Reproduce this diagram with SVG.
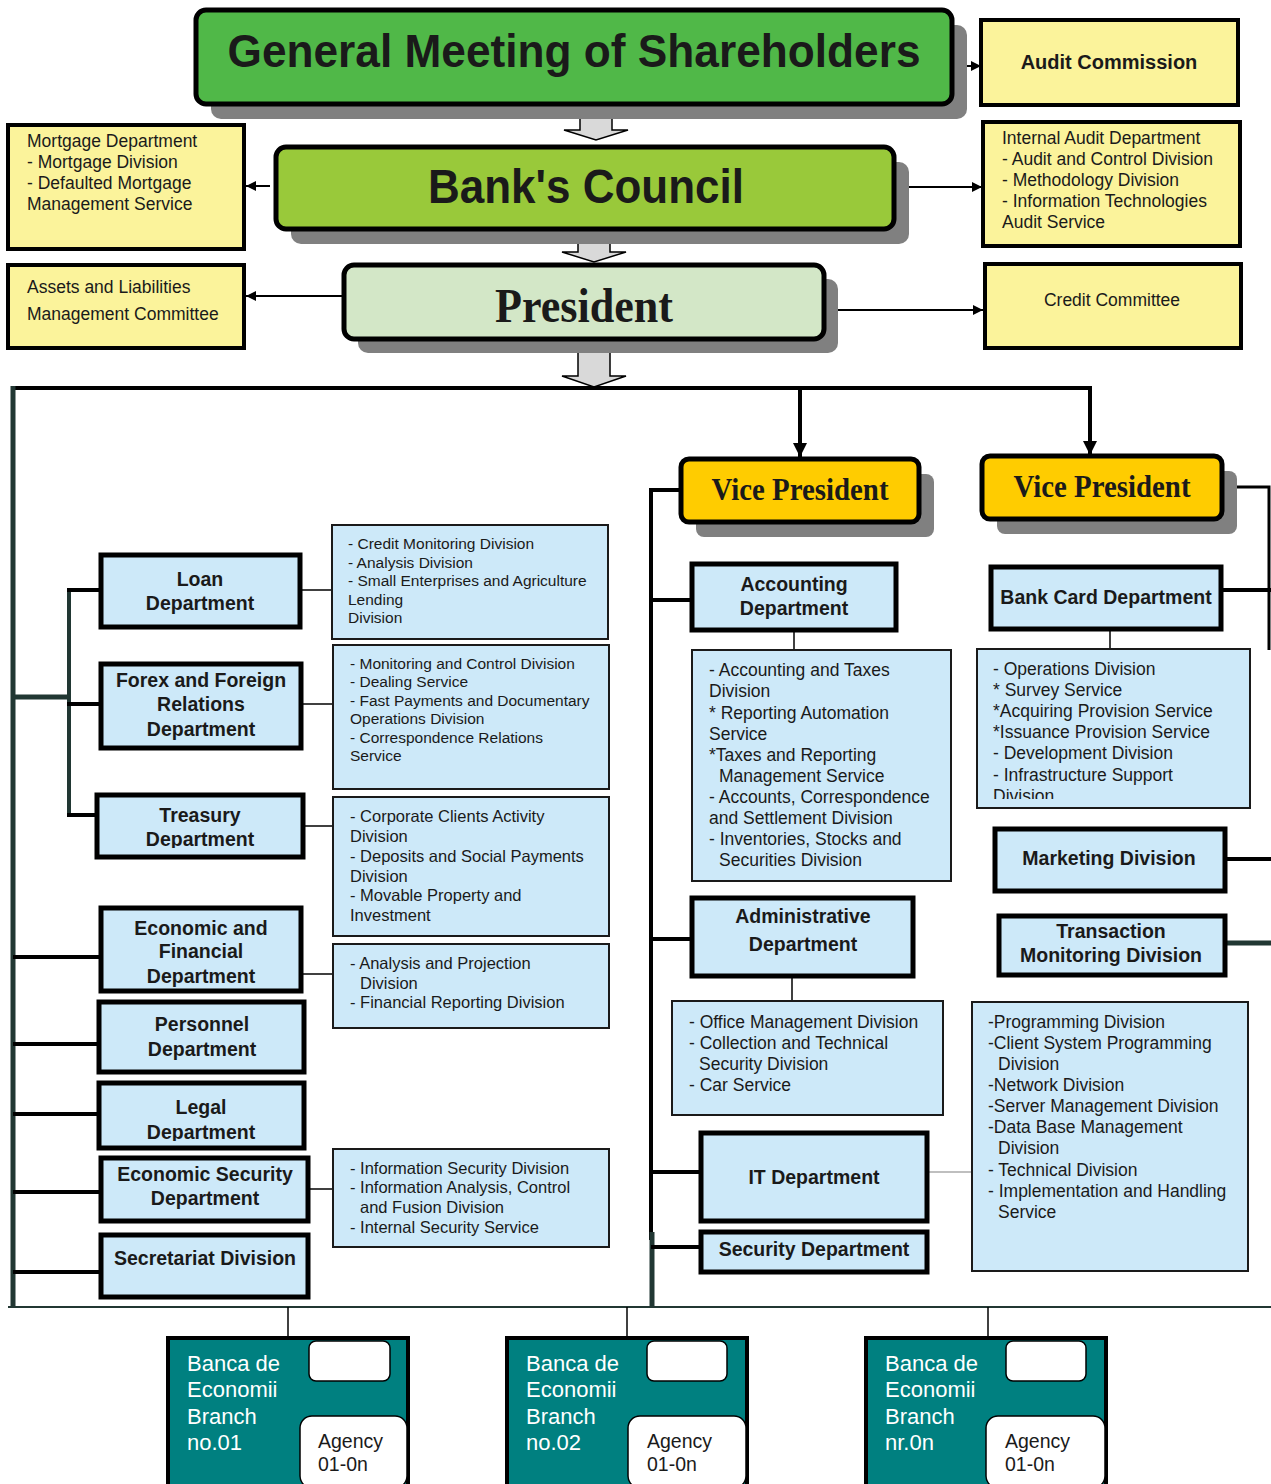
<svg xmlns="http://www.w3.org/2000/svg" width="1271" height="1484" viewBox="0 0 1271 1484">
<style>
.sh{fill:#808080}
.top{stroke:#000;stroke-width:5}
.yel{fill:#fbf39b;stroke:#000;stroke-width:4}
.dept{fill:#cde9f9;stroke:#000;stroke-width:5}
.det{fill:#cde9f9;stroke:#1a1a1a;stroke-width:2}
.br{fill:#008080;stroke:#000;stroke-width:4}
.wb{fill:#fff;stroke:#000;stroke-width:1.5}
.blk{fill:#d9d9d9;stroke:#000;stroke-width:1.5}
.t{font-family:"Liberation Sans",Arial,sans-serif;fill:#1a1a1a}
.tb{font-family:"Liberation Sans",Arial,sans-serif;font-weight:bold;fill:#1a1a1a}
.ts{font-family:"Liberation Serif","Times New Roman",serif;font-weight:bold;fill:#1a1a1a}
.d15{font-size:15.5px}
.d16{font-size:16.5px}
.d17{font-size:17.5px}
.b19{font-size:19.5px;text-anchor:middle}
.wt{font-family:"Liberation Sans",Arial,sans-serif;fill:#fff;font-size:22px}
.ag{font-family:"Liberation Sans",Arial,sans-serif;fill:#1a1a1a;font-size:19.5px}
.ln{stroke:#000;fill:none}
.dk{stroke:#213733;fill:none}
</style>
<defs>
<marker id="ah" viewBox="0 0 10 10" refX="10" refY="5" markerWidth="10" markerHeight="10" markerUnits="userSpaceOnUse" orient="auto">
<path d="M0,0 L10,5 L0,10 z" fill="#000"/>
</marker>
<marker id="ahd" viewBox="0 0 10 10" refX="10" refY="5" markerWidth="14" markerHeight="14" markerUnits="userSpaceOnUse" orient="auto">
<path d="M0,0 L10,5 L0,10 z" fill="#000"/>
</marker>
<clipPath id="cTre"><rect x="99" y="797" width="202" height="51"/></clipPath>
<clipPath id="cLeg"><rect x="101" y="1085" width="201" height="56"/></clipPath>
<clipPath id="cBc"><rect x="978" y="650" width="271" height="149"/></clipPath>
</defs>

<g id="connectors">
<polygon class="blk" points="580,106 612,106 612,130 628,130 596,140 564,130 580,130"/>
<polygon class="blk" points="578,232 610,232 610,252 626,252 594,262 562,252 578,252"/>
<polygon class="blk" points="578,347 610,347 610,376 626,376 594,387 562,376 578,376"/>
<line class="ln" x1="966" y1="66" x2="981" y2="66" stroke-width="2" marker-end="url(#ah)"/>
<line class="ln" x1="909" y1="187" x2="982" y2="187" stroke-width="2" marker-end="url(#ah)"/>
<line class="ln" x1="270" y1="186" x2="246" y2="186" stroke-width="2" marker-end="url(#ah)"/>
<line class="ln" x1="344" y1="296" x2="246" y2="296" stroke-width="2" marker-end="url(#ah)"/>
<line class="ln" x1="838" y1="310" x2="983" y2="310" stroke-width="2" marker-end="url(#ah)"/>
<line class="ln" x1="11" y1="388" x2="1092" y2="388" stroke-width="4"/>
<line class="ln" x1="800" y1="388" x2="800" y2="457" stroke-width="4" marker-end="url(#ahd)"/>
<line class="ln" x1="1090" y1="388" x2="1090" y2="455" stroke-width="4" marker-end="url(#ahd)"/>
<line class="dk" x1="13" y1="386" x2="13" y2="1308" stroke-width="5"/>
<line class="dk" x1="69" y1="589" x2="69" y2="817" stroke-width="4"/>
<line class="dk" x1="13" y1="697" x2="69" y2="697" stroke-width="5"/>
<line class="ln" x1="67" y1="590" x2="101" y2="590" stroke-width="4"/>
<line class="ln" x1="67" y1="704" x2="101" y2="704" stroke-width="4"/>
<line class="ln" x1="67" y1="815" x2="97" y2="815" stroke-width="4"/>
<line class="ln" x1="13" y1="957" x2="101" y2="957" stroke-width="4"/>
<line class="ln" x1="13" y1="1044" x2="99" y2="1044" stroke-width="4"/>
<line class="ln" x1="13" y1="1114" x2="99" y2="1114" stroke-width="4"/>
<line class="ln" x1="13" y1="1192" x2="101" y2="1192" stroke-width="4"/>
<line class="ln" x1="13" y1="1272" x2="101" y2="1272" stroke-width="4"/>
<line class="ln" x1="300" y1="590" x2="332" y2="590" stroke-width="1.5"/>
<line class="ln" x1="301" y1="704" x2="333" y2="704" stroke-width="1.5"/>
<line class="ln" x1="303" y1="826" x2="333" y2="826" stroke-width="1.5"/>
<line class="ln" x1="301" y1="974" x2="333" y2="974" stroke-width="1.5"/>
<line class="ln" x1="308" y1="1189" x2="333" y2="1189" stroke-width="1.5"/>
<polyline class="ln" points="681,490 651,490 651,1240" stroke-width="4"/>
<line class="dk" x1="652" y1="1232" x2="652" y2="1307" stroke-width="5"/>
<line class="ln" x1="651" y1="600" x2="692" y2="600" stroke-width="4"/>
<line class="ln" x1="651" y1="939" x2="692" y2="939" stroke-width="4"/>
<line class="ln" x1="651" y1="1172" x2="701" y2="1172" stroke-width="4"/>
<line class="ln" x1="651" y1="1247" x2="701" y2="1247" stroke-width="4"/>
<line class="ln" x1="794" y1="630" x2="794" y2="650" stroke-width="1.5"/>
<line class="ln" x1="792" y1="976" x2="792" y2="1001" stroke-width="1.5"/>
<line x1="927" y1="1172" x2="972" y2="1172" stroke="#aaa" stroke-width="1.5"/>
<polyline class="ln" points="1222,487 1269,487 1269,650" stroke-width="3"/>
<line class="ln" x1="1221" y1="590" x2="1271" y2="590" stroke-width="4"/>
<line class="ln" x1="1225" y1="859" x2="1271" y2="859" stroke-width="4"/>
<line class="dk" x1="1225" y1="943" x2="1271" y2="943" stroke-width="5"/>
<line class="ln" x1="1110" y1="629" x2="1110" y2="649" stroke-width="1.5"/>
<line class="dk" x1="8" y1="1307" x2="1271" y2="1307" stroke-width="2"/>
<line class="ln" x1="288" y1="1307" x2="288" y2="1338" stroke-width="1.5"/>
<line class="ln" x1="627" y1="1307" x2="627" y2="1338" stroke-width="1.5"/>
<line class="ln" x1="988" y1="1307" x2="988" y2="1338" stroke-width="1.5"/>
</g>

<g id="gms">
<rect class="sh" x="211" y="25" width="756" height="94" rx="10"/>
<rect class="top" x="196" y="10" width="756" height="94" rx="10" fill="#50b848"/>
<text class="tb" x="574" y="67" font-size="46" text-anchor="middle" textLength="693" lengthAdjust="spacingAndGlyphs">General Meeting of Shareholders</text>
</g>
<g id="council">
<rect class="sh" x="291" y="162" width="618" height="82" rx="10"/>
<rect class="top" x="276" y="147" width="618" height="82" rx="10" fill="#99c93a"/>
<text class="tb" x="586" y="203" font-size="48" text-anchor="middle" textLength="316" lengthAdjust="spacingAndGlyphs">Bank's Council</text>
</g>
<g id="president">
<rect class="sh" x="358" y="279" width="480" height="74" rx="10"/>
<rect class="top" x="344" y="265" width="480" height="74" rx="10" fill="#d3e7c7"/>
<text class="ts" x="584" y="322" font-size="48" text-anchor="middle" textLength="178" lengthAdjust="spacingAndGlyphs">President</text>
</g>
<g id="audit-commission">
<rect class="yel" x="981" y="20" width="257" height="85"/>
<text class="tb" x="1109" y="69" font-size="20" text-anchor="middle">Audit Commission</text>
</g>
<g id="internal-audit">
<rect class="yel" x="983" y="122" width="257" height="124"/>
<text class="t d17" x="1002" y="144">Internal Audit Department</text>
<text class="t d17" x="1002" y="165">- Audit and Control Division</text>
<text class="t d17" x="1002" y="186">- Methodology Division</text>
<text class="t d17" x="1002" y="207">- Information Technologies</text>
<text class="t d17" x="1002" y="228">Audit Service</text>
</g>
<g id="mortgage">
<rect class="yel" x="8" y="125" width="236" height="124"/>
<text class="t d17" x="27" y="147">Mortgage Department</text>
<text class="t d17" x="27" y="168">- Mortgage Division</text>
<text class="t d17" x="27" y="189">- Defaulted Mortgage</text>
<text class="t d17" x="27" y="210">Management Service</text>
</g>
<g id="alco">
<rect class="yel" x="8" y="265" width="236" height="83"/>
<text class="t d17" x="27" y="293">Assets and Liabilities</text>
<text class="t d17" x="27" y="320">Management Committee</text>
</g>
<g id="credit-committee">
<rect class="yel" x="985" y="264" width="256" height="84"/>
<text class="t d17" x="1112" y="306" text-anchor="middle">Credit Committee</text>
</g>

<g id="vp1">
<rect class="sh" x="696" y="474" width="238" height="63" rx="8"/>
<rect class="top" x="681" y="459" width="238" height="63" rx="8" fill="#ffcc00"/>
<text class="ts" x="800" y="500" font-size="31" text-anchor="middle" textLength="177" lengthAdjust="spacingAndGlyphs">Vice President</text>
</g>
<g id="vp2">
<rect class="sh" x="997" y="471" width="240" height="63" rx="8"/>
<rect class="top" x="982" y="456" width="240" height="63" rx="8" fill="#ffcc00"/>
<text class="ts" x="1102" y="497" font-size="31" text-anchor="middle" textLength="177" lengthAdjust="spacingAndGlyphs">Vice President</text>
</g>

<g id="loan">
<rect class="dept" x="101" y="555" width="199" height="72"/>
<text class="tb b19" x="200" y="586">Loan</text>
<text class="tb b19" x="200" y="610">Department</text>
</g>
<g id="loan-details">
<rect class="det" x="332" y="525" width="276" height="114"/>
<text class="t d15" x="348" y="549">- Credit Monitoring Division</text>
<text class="t d15" x="348" y="568">- Analysis Division</text>
<text class="t d15" x="348" y="586">- Small Enterprises and Agriculture</text>
<text class="t d15" x="348" y="605">Lending</text>
<text class="t d15" x="348" y="623">Division</text>
</g>
<g id="forex">
<rect class="dept" x="101" y="664" width="200" height="84"/>
<text class="tb b19" x="201" y="687">Forex and Foreign</text>
<text class="tb b19" x="201" y="711">Relations</text>
<text class="tb b19" x="201" y="736">Department</text>
</g>
<g id="forex-details">
<rect class="det" x="333" y="645" width="276" height="144"/>
<text class="t d15" x="350" y="669">- Monitoring and Control Division</text>
<text class="t d15" x="350" y="687">- Dealing Service</text>
<text class="t d15" x="350" y="706">- Fast Payments and Documentary</text>
<text class="t d15" x="350" y="724">Operations Division</text>
<text class="t d15" x="350" y="743">- Correspondence Relations</text>
<text class="t d15" x="350" y="761">Service</text>
</g>
<g id="treasury">
<rect class="dept" x="97" y="795" width="206" height="62"/>
<g clip-path="url(#cTre)">
<text class="tb b19" x="200" y="822">Treasury</text>
<text class="tb b19" x="200" y="846">Department</text>
</g>
</g>
<g id="treasury-details">
<rect class="det" x="333" y="797" width="276" height="139"/>
<text class="t d16" x="350" y="822">- Corporate Clients Activity</text>
<text class="t d16" x="350" y="842">Division</text>
<text class="t d16" x="350" y="862">- Deposits and Social Payments</text>
<text class="t d16" x="350" y="882">Division</text>
<text class="t d16" x="350" y="901">- Movable Property and</text>
<text class="t d16" x="350" y="921">Investment</text>
</g>
<g id="econ-fin">
<rect class="dept" x="101" y="908" width="200" height="83"/>
<text class="tb b19" x="201" y="935">Economic and</text>
<text class="tb b19" x="201" y="958">Financial</text>
<text class="tb b19" x="201" y="983">Department</text>
</g>
<g id="econ-fin-details">
<rect class="det" x="333" y="944" width="276" height="84"/>
<text class="t d16" x="350" y="969">- Analysis and Projection</text>
<text class="t d16" x="360" y="989">Division</text>
<text class="t d16" x="350" y="1008">- Financial Reporting Division</text>
</g>
<g id="personnel">
<rect class="dept" x="99" y="1002" width="205" height="70"/>
<text class="tb b19" x="202" y="1031">Personnel</text>
<text class="tb b19" x="202" y="1056">Department</text>
</g>
<g id="legal">
<rect class="dept" x="99" y="1083" width="205" height="65"/>
<g clip-path="url(#cLeg)">
<text class="tb b19" x="201" y="1114">Legal</text>
<text class="tb b19" x="201" y="1139">Department</text>
</g>
</g>
<g id="econ-sec">
<rect class="dept" x="101" y="1158" width="207" height="63"/>
<text class="tb b19" x="205" y="1181">Economic Security</text>
<text class="tb b19" x="205" y="1205">Department</text>
</g>
<g id="econ-sec-details">
<rect class="det" x="333" y="1149" width="276" height="98"/>
<text class="t d16" x="350" y="1174">- Information Security Division</text>
<text class="t d16" x="350" y="1193">- Information Analysis, Control</text>
<text class="t d16" x="360" y="1213">and Fusion Division</text>
<text class="t d16" x="350" y="1233">- Internal Security Service</text>
</g>
<g id="secretariat">
<rect class="dept" x="101" y="1235" width="207" height="62"/>
<text class="tb b19" x="205" y="1265">Secretariat Division</text>
</g>

<g id="accounting">
<rect class="dept" x="692" y="564" width="204" height="66"/>
<text class="tb b19" x="794" y="591">Accounting</text>
<text class="tb b19" x="794" y="615">Department</text>
</g>
<g id="accounting-details">
<rect class="det" x="692" y="650" width="259" height="231"/>
<text class="t d17" x="709" y="676">- Accounting and Taxes</text>
<text class="t d17" x="709" y="697">Division</text>
<text class="t d17" x="709" y="719">* Reporting Automation</text>
<text class="t d17" x="709" y="740">Service</text>
<text class="t d17" x="709" y="761">*Taxes and Reporting</text>
<text class="t d17" x="719" y="782">Management Service</text>
<text class="t d17" x="709" y="803">- Accounts, Correspondence</text>
<text class="t d17" x="709" y="824">and Settlement Division</text>
<text class="t d17" x="709" y="845">- Inventories, Stocks and</text>
<text class="t d17" x="719" y="866">Securities Division</text>
</g>
<g id="administrative">
<rect class="dept" x="692" y="898" width="221" height="78"/>
<text class="tb b19" x="803" y="923">Administrative</text>
<text class="tb b19" x="803" y="951">Department</text>
</g>
<g id="admin-details">
<rect class="det" x="672" y="1001" width="271" height="114"/>
<text class="t d17" x="689" y="1028">- Office Management Division</text>
<text class="t d17" x="689" y="1049">- Collection and Technical</text>
<text class="t d17" x="699" y="1070">Security Division</text>
<text class="t d17" x="689" y="1091">- Car Service</text>
</g>
<g id="it">
<rect class="dept" x="701" y="1133" width="226" height="88"/>
<text class="tb b19" x="814" y="1184">IT Department</text>
</g>
<g id="security">
<rect class="dept" x="701" y="1232" width="226" height="40"/>
<text class="tb b19" x="814" y="1256">Security Department</text>
</g>

<g id="bank-card">
<rect class="dept" x="991" y="567" width="230" height="62"/>
<text class="tb b19" x="1106" y="604">Bank Card Department</text>
</g>
<g id="bank-card-details">
<rect class="det" x="977" y="649" width="273" height="159"/>
<g clip-path="url(#cBc)">
<text class="t d17" x="993" y="675">- Operations Division</text>
<text class="t d17" x="993" y="696">* Survey Service</text>
<text class="t d17" x="993" y="717">*Acquiring Provision Service</text>
<text class="t d17" x="993" y="738">*Issuance Provision Service</text>
<text class="t d17" x="993" y="759">- Development Division</text>
<text class="t d17" x="993" y="781">- Infrastructure Support</text>
<text class="t d17" x="993" y="802">Division</text>
</g>
</g>
<g id="marketing">
<rect class="dept" x="995" y="829" width="230" height="62"/>
<text class="tb b19" x="1109" y="865">Marketing Division</text>
</g>
<g id="transaction">
<rect class="dept" x="999" y="916" width="226" height="59"/>
<text class="tb b19" x="1111" y="938">Transaction</text>
<text class="tb b19" x="1111" y="962">Monitoring Division</text>
</g>
<g id="it-details">
<rect class="det" x="972" y="1002" width="276" height="269"/>
<text class="t d17" x="988" y="1028">-Programming Division</text>
<text class="t d17" x="988" y="1049">-Client System Programming</text>
<text class="t d17" x="998" y="1070">Division</text>
<text class="t d17" x="988" y="1091">-Network Division</text>
<text class="t d17" x="988" y="1112">-Server Management Division</text>
<text class="t d17" x="988" y="1133">-Data Base Management</text>
<text class="t d17" x="998" y="1154">Division</text>
<text class="t d17" x="988" y="1176">- Technical Division</text>
<text class="t d17" x="988" y="1197">- Implementation and Handling</text>
<text class="t d17" x="998" y="1218">Service</text>
</g>

<g id="branch-01">
<rect class="br" x="168" y="1338" width="240" height="150"/>
<text class="wt" x="187" y="1371">Banca de</text>
<text class="wt" x="187" y="1397">Economii</text>
<text class="wt" x="187" y="1424">Branch</text>
<text class="wt" x="187" y="1450">no.01</text>
<rect class="wb" x="309" y="1341" width="81" height="40" rx="7"/>
<rect class="wb" x="300" y="1416" width="107" height="72" rx="12"/>
<text class="ag" x="318" y="1448">Agency</text>
<text class="ag" x="318" y="1471">01-0n</text>
</g>
<g id="branch-02">
<rect class="br" x="507" y="1338" width="240" height="150"/>
<text class="wt" x="526" y="1371">Banca de</text>
<text class="wt" x="526" y="1397">Economii</text>
<text class="wt" x="526" y="1424">Branch</text>
<text class="wt" x="526" y="1450">no.02</text>
<rect class="wb" x="647" y="1341" width="80" height="40" rx="7"/>
<rect class="wb" x="628" y="1416" width="118" height="72" rx="12"/>
<text class="ag" x="647" y="1448">Agency</text>
<text class="ag" x="647" y="1471">01-0n</text>
</g>
<g id="branch-0n">
<rect class="br" x="866" y="1338" width="240" height="150"/>
<text class="wt" x="885" y="1371">Banca de</text>
<text class="wt" x="885" y="1397">Economii</text>
<text class="wt" x="885" y="1424">Branch</text>
<text class="wt" x="885" y="1450">nr.0n</text>
<rect class="wb" x="1006" y="1341" width="80" height="40" rx="7"/>
<rect class="wb" x="986" y="1416" width="119" height="72" rx="12"/>
<text class="ag" x="1005" y="1448">Agency</text>
<text class="ag" x="1005" y="1471">01-0n</text>
</g>
</svg>
